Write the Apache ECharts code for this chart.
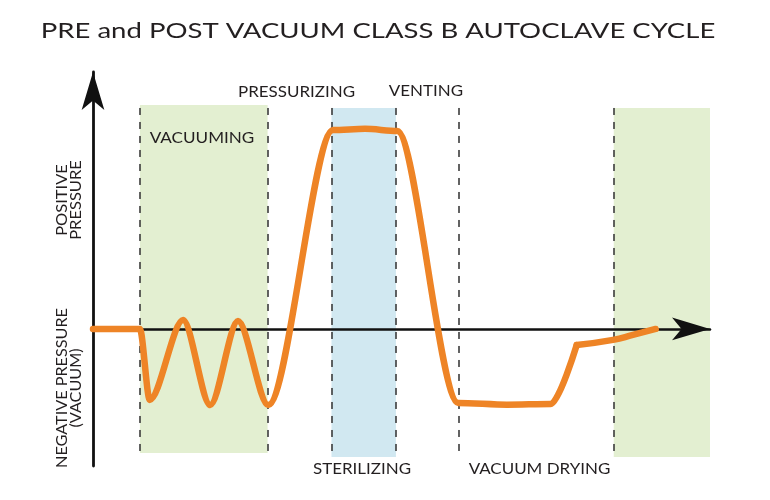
<!DOCTYPE html>
<html>
<head>
<meta charset="utf-8">
<title>PRE and POST VACUUM CLASS B AUTOCLAVE CYCLE</title>
<script src="https://cdn.jsdelivr.net/npm/echarts@6/dist/echarts.min.js"></script>
<style>
  html, body { margin: 0; padding: 0; background: #ffffff; }
  #chart { width: 770px; height: 500px; }
</style>
</head>
<body>
<div id="chart"></div>
<script>
// Cycle time (arbitrary units, 0-100) and chamber pressure (arbitrary units, 0 = atmosphere)
const times    = [0, 7.6, 9.2, 14.6, 19.0, 23.5, 28.4, 38.9, 44.1, 49.3, 59.2, 67.1, 74.2, 78.4];
const pressure = [0, 0, -20.7, 2.6, -22.2, 2.3, -22.2, 58.1, 58.4, 57.8, -21.6, -22.1, -21.9, -4.7];

// Final return towards atmospheric pressure
const tailTimes    = [78.4, 84.3, 87.5, 91.2];
const tailPressure = [-4.7, -3.2, -1.75, 0];

// Phase boundaries on the time axis (dashed markers)
const phaseBounds = [7.6, 28.3, 38.65, 49.1, 59.3, 84.4];

// Shaded phases: [start, end]
const vacuumingPhase   = [7.6, 28.3];
const sterilizingPhase = [38.65, 49.1];
const postVacuumPhase  = [84.4, 100];

// Texts
const chartTitle  = 'PRE and POST VACUUM CLASS B AUTOCLAVE CYCLE';
const phaseLabels = ['VACUUMING', 'PRESSURIZING', 'VENTING', 'STERILIZING', 'VACUUM DRYING'];
const axisLabels  = ['POSITIVE\nPRESSURE', 'NEGATIVE PRESSURE\n(VACUUM)'];

const FONT = 'Lato, "Open Sans", sans-serif';
const INK = '#231f20';
const ORANGE = '#ee8426';
const GREEN = '#e3efd1';
const BLUE = '#d1e8f1';

const pairs = (xs, ys) => xs.map((x, i) => [x, ys[i]]);

const shade = (range, color, top, bottom) => [
  { coord: [range[0], top], itemStyle: { color: color } },
  { coord: [range[1], bottom] }
];

// Centered text; stretch widens the geometric face horizontally
function textEl(text, x, y, size, stretch, rotate) {
  return {
    type: 'text',
    x: x, y: y,
    rotation: rotate ? Math.PI / 2 : 0,
    scaleX: stretch,
    silent: true,
    z: 10,
    style: {
      text: text,
      fill: INK,
      fontSize: size,
      fontFamily: FONT,
      lineHeight: 14,
      textAlign: 'center',
      textVerticalAlign: 'middle',
      align: 'center',
      verticalAlign: 'middle'
    }
  };
}

const chart = echarts.init(document.getElementById('chart'), null, { renderer: 'canvas' });

chart.setOption({
  animation: false,
  backgroundColor: '#ffffff',
  grid: { left: 93, right: 60, top: 72, bottom: 34, containLabel: false },
  xAxis: {
    type: 'value',
    min: 0, max: 100,
    z: 1,
    axisLine: {
      onZero: true,
      lineStyle: { color: '#111111', width: 2.5 },
      symbol: ['none', 'arrow'],
      symbolSize: [17, 38],
      symbolOffset: [0, 0]
    },
    axisTick: { show: false },
    axisLabel: { show: false },
    splitLine: { show: false }
  },
  yAxis: {
    type: 'value',
    min: -40, max: 75,
    z: 1,
    axisLine: {
      show: true,
      onZero: false,
      lineStyle: { color: '#111111', width: 2.8 },
      symbol: ['none', 'arrow'],
      symbolSize: [17, 38],
      symbolOffset: [0, 0]
    },
    axisTick: { show: false },
    axisLabel: { show: false },
    splitLine: { show: false }
  },
  series: [
    {
      type: 'line',
      name: 'Pressure',
      data: pairs(times, pressure),
      smooth: 0.3,
      smoothMonotone: 'x',
      symbol: 'none',
      z: 3,
      lineStyle: { color: ORANGE, width: 6.5, cap: 'round', join: 'round' },
      markArea: {
        silent: true,
        z: 0,
        label: { show: false },
        data: [
          shade(vacuumingPhase, GREEN, 65.4, -36.2),
          shade(sterilizingPhase, BLUE, 64.5, -37.4),
          shade(postVacuumPhase, GREEN, 64.5, -37.4)
        ]
      },
      markLine: {
        silent: true,
        z: 0,
        symbol: ['none', 'none'],
        label: { show: false },
        lineStyle: { color: '#3c3c3c', width: 1.6, type: [7, 7] },
        data: phaseBounds.map(x => [{ coord: [x, 64.5] }, { coord: [x, -36.5] }])
      }
    },
    {
      type: 'line',
      name: 'Pressure (return)',
      data: pairs(tailTimes, tailPressure),
      smooth: 0.5,
      symbol: 'none',
      z: 3,
      lineStyle: { color: ORANGE, width: 6.5, cap: 'round', join: 'round' }
    }
  ],
  graphic: [
    textEl(chartTitle, 378, 31, 21.5, 1.28),
    textEl(phaseLabels[0], 202, 138.5, 15, 1.14),
    textEl(phaseLabels[1], 296.5, 92, 15, 1.13),
    textEl(phaseLabels[2], 426, 91, 15, 1.13),
    textEl(phaseLabels[3], 362, 469, 15, 1.13),
    textEl(phaseLabels[4], 539.5, 469, 15, 1.13),
    textEl(axisLabels[0], 69, 200, 15, 1.1, true),
    textEl(axisLabels[1], 69, 388, 15, 1.08, true)
  ]
});
</script>
</body>
</html>
